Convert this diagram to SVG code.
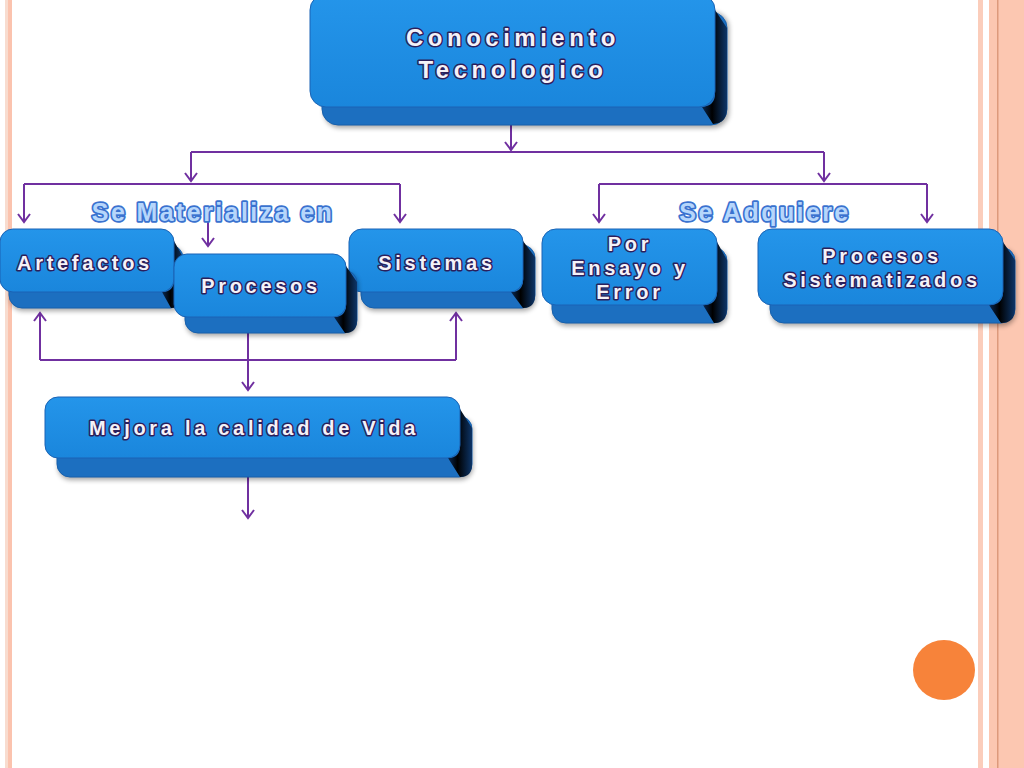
<svg xmlns="http://www.w3.org/2000/svg" width="1024" height="768" viewBox="0 0 1024 768">
<defs>
<style>
.front{fill:url(#gFront);stroke:#1a63b5;stroke-width:1}
.back{fill:#1c6fc0;stroke:#1660ad;stroke-width:1}
.side{fill:url(#gSide)}
.shadow{fill:#000;opacity:0.35;filter:url(#blur)}
.lbl{font-family:"Liberation Sans",Arial,sans-serif;font-weight:bold;fill:#f4f2f8;stroke:#2b1f5c;stroke-width:3;paint-order:stroke;stroke-linejoin:round;text-anchor:middle}
.big{font-size:24px;letter-spacing:4.5px}
.sm{font-size:20px;letter-spacing:3.7px}
.tag{font-family:"Liberation Sans",Arial,sans-serif;font-weight:bold;font-size:25px;letter-spacing:2.4px;fill:#b6d6fb;stroke:#3a72cf;stroke-width:3.5;paint-order:stroke;stroke-linejoin:round;text-anchor:middle}
.con{fill:none;stroke:#7030a0;stroke-width:2}
.arr{marker-end:url(#ah)}
</style>
<linearGradient id="gFront" x1="0" y1="0" x2="0" y2="1">
<stop offset="0" stop-color="#2495ea"/>
<stop offset="1" stop-color="#1a86dc"/>
</linearGradient>
<linearGradient id="gSide" x1="0" y1="0" x2="1" y2="0">
<stop offset="0" stop-color="#0a2a55"/>
<stop offset="0.4" stop-color="#000000"/>
<stop offset="1" stop-color="#0d3568"/>
</linearGradient>
<filter id="blur" x="-10%" y="-30%" width="120%" height="160%"><feGaussianBlur stdDeviation="2.5"/></filter>
<marker id="ah" viewBox="-10 -8 12 16" refX="0" refY="0" markerWidth="12" markerHeight="16" markerUnits="userSpaceOnUse" orient="auto">
<path d="M-8,-6 L0,0 L-8,6" fill="none" stroke="#7030a0" stroke-width="2"/>
</marker>
</defs>
<rect width="1024" height="768" fill="#ffffff"/>
<g id="frame">
<rect x="5" y="0" width="3" height="768" fill="#f8dccf"/>
<rect x="8" y="0" width="4" height="768" fill="#fbc3ae"/>
<rect x="978" y="0" width="5" height="768" fill="#fbcdbb"/>
<rect x="989" y="0" width="35" height="768" fill="#fcc7b1"/>
<rect x="997" y="0" width="1.5" height="768" fill="#dd9a7c"/>
<ellipse cx="944" cy="670" rx="31" ry="30" fill="#f7833a"/>
</g>
<g id="connectors">
<path class="con arr" d="M511,122 V150"/>
<path class="con" d="M191,152 H824"/>
<path class="con arr" d="M191,152 V181"/>
<path class="con arr" d="M824,152 V181"/>
<path class="con" d="M24,184 H400"/>
<path class="con arr" d="M24,184 V222"/>
<path class="con arr" d="M400,184 V222"/>
<path class="con arr" d="M208,214 V246"/>
<path class="con" d="M599,184 H927"/>
<path class="con arr" d="M599,184 V222"/>
<path class="con arr" d="M927,184 V222"/>
<path class="con" d="M40,360 H456"/>
<path class="con arr" d="M40,360 V313"/>
<path class="con arr" d="M456,360 V313"/>
<path class="con arr" d="M248,332 V390"/>
<path class="con arr" d="M248,476 V518"/>
</g>
<g id="n-conocimiento">
<rect class="shadow" x="324" y="12" width="405" height="116" rx="16"/>
<rect class="back" x="322" y="12" width="405" height="113" rx="16"/>
<path class="side" d="M715,10 L727,28 L727,109 Q727,123 713,124 L702,107 Q715,106 715,94 Z"/>
<rect class="front" x="310" y="-6" width="405" height="113" rx="16"/>
<text class="lbl big" x="513" y="46">Conocimiento</text>
<text class="lbl big" x="513" y="78">Tecnologico</text>
</g>
<g id="n-artefactos">
<rect class="shadow" x="10" y="247" width="174" height="64" rx="13"/>
<rect class="back" x="9" y="245" width="174" height="63" rx="13"/>
<path class="side" d="M174,241 L183,257 L183,296 Q183,308 171,308 L162,292 Q174,292 174,280 Z"/>
<rect class="front" x="0" y="229" width="174" height="63" rx="13"/>
<text class="lbl sm" x="85" y="270">Artefactos</text>
</g>
<g id="n-sistemas">
<rect class="shadow" x="362" y="247" width="174" height="64" rx="13"/>
<rect class="back" x="361" y="245" width="174" height="63" rx="13"/>
<path class="side" d="M523,241 L535,257 L535,296 Q535,308 523,308 L511,292 Q523,292 523,280 Z"/>
<rect class="front" x="349" y="229" width="174" height="63" rx="13"/>
<text class="lbl sm" x="437" y="270">Sistemas</text>
</g>
<g id="n-procesos">
<rect class="shadow" x="186" y="272" width="172" height="64" rx="13"/>
<rect class="back" x="185" y="270" width="172" height="63" rx="13"/>
<path class="side" d="M346,266 L357,282 L357,321 Q357,333 345,333 L334,317 Q346,317 346,305 Z"/>
<rect class="front" x="174" y="254" width="172" height="63" rx="13"/>
<text class="lbl sm" x="261" y="293">Procesos</text>
</g>
<g id="n-ensayo">
<rect class="shadow" x="553" y="249" width="175" height="77" rx="14"/>
<rect class="back" x="552" y="247" width="175" height="76" rx="14"/>
<path class="side" d="M717,242 L727,260 L727,309 Q727,323 714,323 L703,305 Q717,305 717,292 Z"/>
<rect class="front" x="542" y="229" width="175" height="76" rx="14"/>
<text class="lbl sm" x="630" y="251">Por</text>
<text class="lbl sm" x="630" y="275">Ensayo y</text>
<text class="lbl sm" x="630" y="299">Error</text>
</g>
<g id="n-sistematizados">
<rect class="shadow" x="771" y="249" width="245" height="77" rx="14"/>
<rect class="back" x="770" y="247" width="245" height="76" rx="14"/>
<path class="side" d="M1003,242 L1015,260 L1015,309 Q1015,323 1001,323 L989,305 Q1003,305 1003,292 Z"/>
<rect class="front" x="758" y="229" width="245" height="76" rx="14"/>
<text class="lbl sm" x="882" y="263">Procesos</text>
<text class="lbl sm" x="882" y="287">Sistematizados</text>
</g>
<g id="n-mejora">
<rect class="shadow" x="58" y="418" width="415" height="62" rx="13"/>
<rect class="back" x="57" y="416" width="415" height="61" rx="13"/>
<path class="side" d="M460,409 L472,428 L472,465 Q472,477 460,477 L448,458 Q460,458 460,446 Z"/>
<rect class="front" x="45" y="397" width="415" height="61" rx="13"/>
<text class="lbl sm" x="254" y="435">Mejora la calidad de Vida</text>
</g>
<g id="labels">
<text class="tag" x="213" y="221">Se Materializa en</text>
<text class="tag" x="765" y="221">Se Adquiere</text>
</g>
</svg>
